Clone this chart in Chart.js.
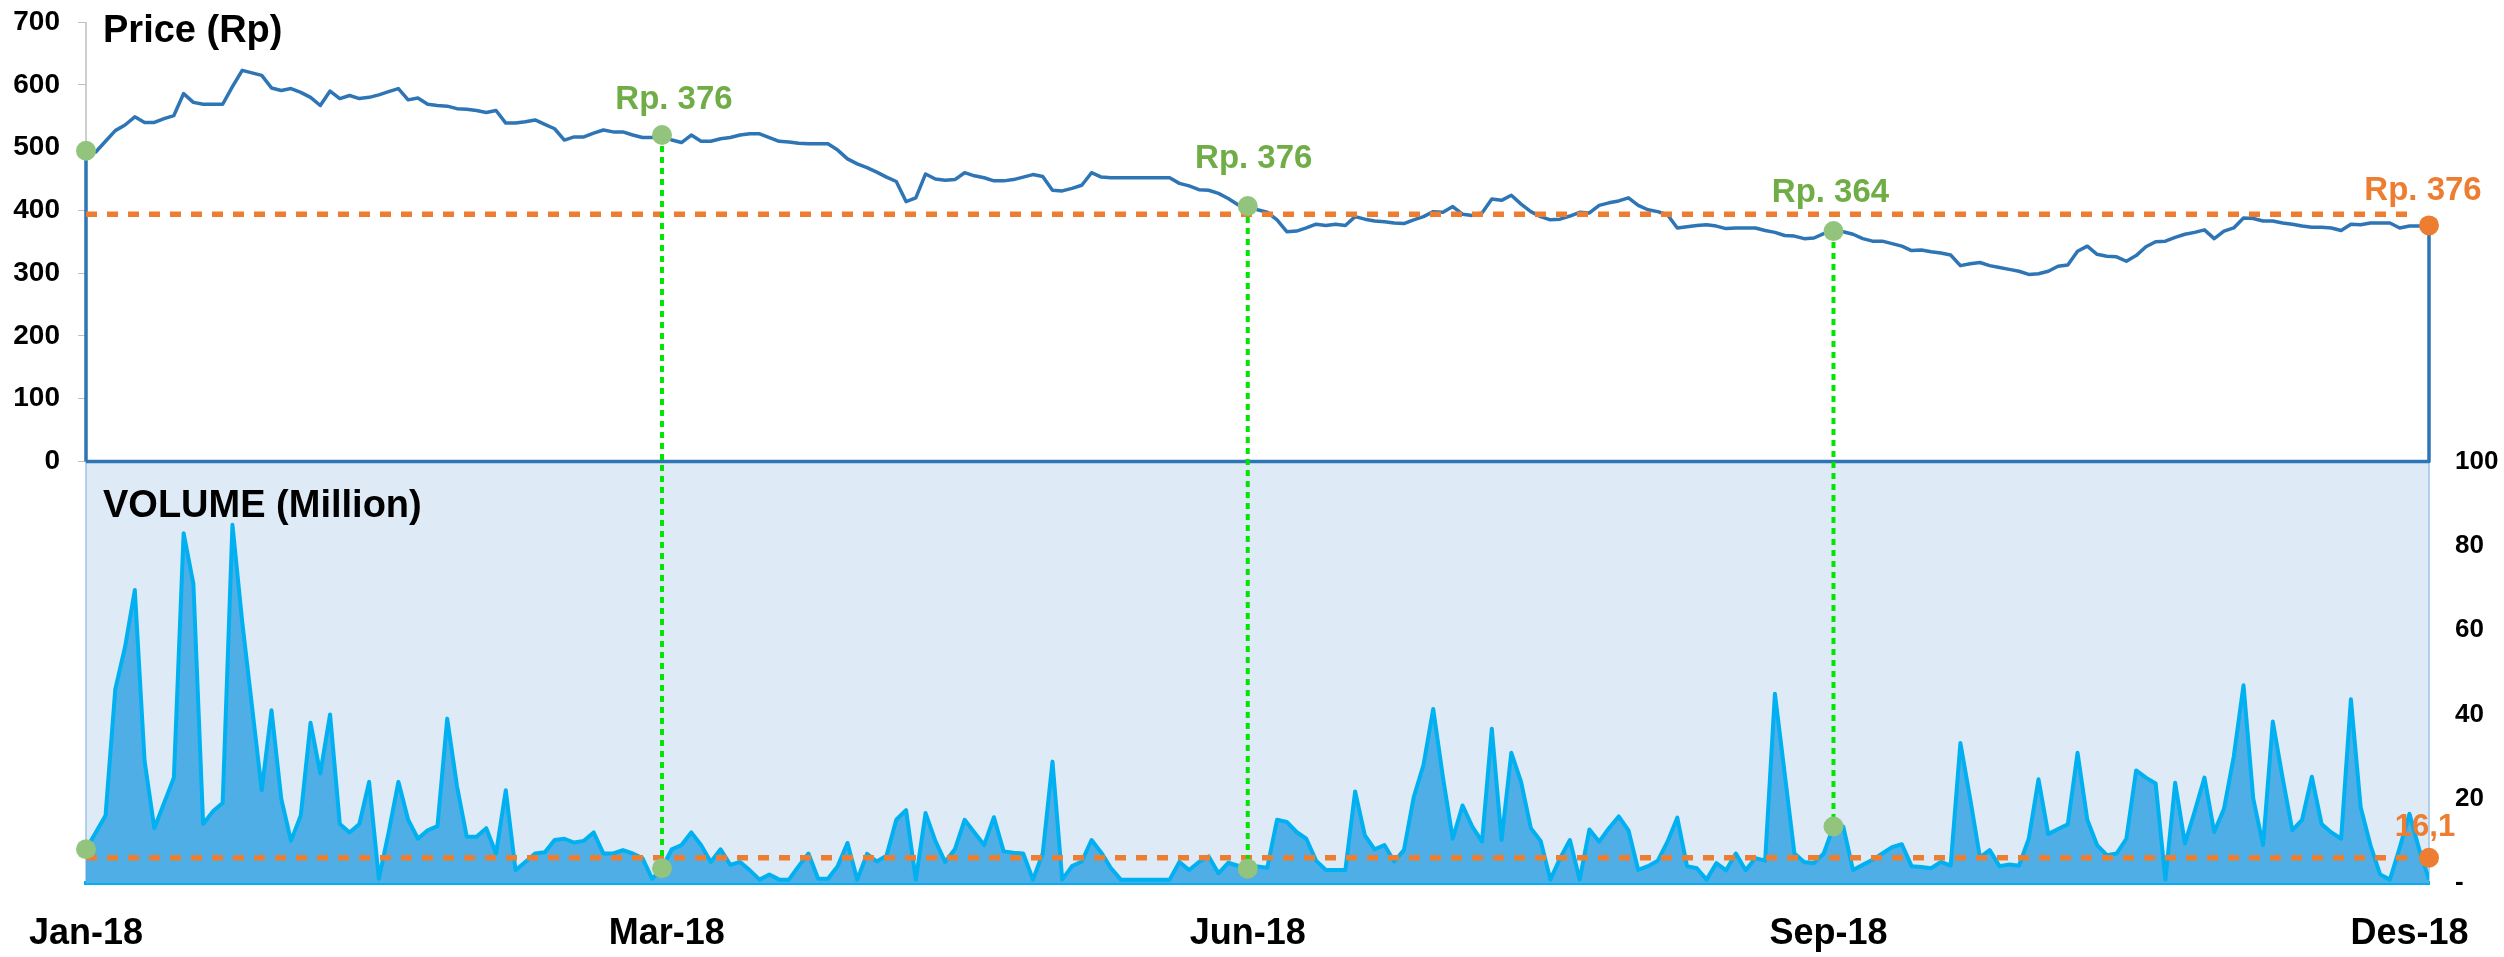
<!DOCTYPE html>
<html>
<head>
<meta charset="utf-8">
<title>Price &amp; Volume 2018</title>
<script src="https://cdn.jsdelivr.net/npm/chart.js@4.4.1/dist/chart.umd.min.js"></script>
<style>
  html, body { margin: 0; padding: 0; background: #ffffff; }
  #wrap { width: 2504px; height: 957px; }
</style>
</head>
<body>
<div id="wrap"><canvas id="chart" width="2504" height="957"></canvas></div>
<script>
// trading-day index on x, month labels at these positions
const xTickPos = [0, 59.5, 119, 178.5, 238];
const xTickLabels = ['Jan-18', 'Mar-18', 'Jun-18', 'Sep-18', 'Des-18'];
const priceTicks = [0, 100, 200, 300, 400, 500, 600, 700];
const volumeTicks = [0, 20, 40, 60, 80, 100];

const price = [
    495, 493, 510, 527, 536, 549, 540, 540, 546, 551, 586, 572, 569, 569, 569, 597, 623, 619, 615, 595,
    591, 594, 588, 580, 567, 590, 578, 583, 578, 580, 584, 589, 594, 576, 579, 569, 567, 566, 562, 561,
    559, 556, 559, 539, 539, 541, 544, 537, 530, 512, 517, 517, 523, 528, 525, 525, 520, 516, 516, 520,
    512, 508, 520, 510, 510, 514, 516, 520, 522, 522, 516, 510, 509, 507, 506, 506, 506, 496, 482, 474,
    468, 461, 453, 446, 414, 420, 458, 450, 448, 449, 460, 455, 452, 447, 447, 449, 453, 457, 454, 432,
    431, 435, 440, 460, 453, 452, 452, 452, 452, 452, 452, 452, 443, 439, 433, 432, 427, 419, 409, 407,
    401, 397, 385, 366, 367, 372, 378, 376, 378, 376, 390, 386, 383, 382, 380, 379, 385, 390, 398, 397,
    406, 394, 392, 396, 418, 416, 424, 410, 398, 390, 385, 386, 391, 397, 396, 408, 412, 415, 420, 408,
    401, 398, 393, 372, 374, 376, 377, 375, 371, 372, 372, 372, 368, 365, 360, 359, 355, 356, 363, 367,
    366, 362, 355, 351, 351, 347, 343, 336, 337, 334, 332, 329, 312, 315, 317, 312, 309, 306, 303, 298,
    299, 303, 311, 313, 335, 343, 330, 327, 326, 319, 328, 342, 350, 351, 357, 362, 365, 369, 355, 367,
    372, 388, 387, 383, 383, 380, 378, 375, 373, 373, 372, 368, 378, 377, 380, 380, 380, 372, 375, 375,
    376
];

const volume = [
    8, 12, 16, 46, 56, 69.5, 29, 13, 19, 25, 83, 71, 14, 17, 19, 85, 62, 42, 22, 41,
    20, 10, 16, 38, 26, 40, 14, 12, 14, 24, 1, 12, 24, 15, 10.5, 12.5, 13.5, 39, 23, 11,
    11, 13, 7, 22, 3, 5, 7, 7.3, 10.2, 10.5, 9.6, 10, 12, 7, 7, 7.8, 7, 5.9, 1, 3.5,
    8, 9, 12, 9, 5, 8, 4.3, 5, 3, 0.8, 2, 0.8, 0.8, 4, 7, 1, 1, 4, 9.5, 0.8,
    6.9, 5.1, 6.5, 15, 17.3, 0.8, 16.6, 10, 5, 8, 15, 12, 9, 15.6, 7.5, 7.2, 7, 0.8, 7, 28.8,
    0.8, 4, 5.1, 10.2, 7.2, 3.5, 0.8, 0.8, 0.8, 0.8, 0.8, 0.8, 5, 3.1, 5, 6.3, 2.3, 4.8, 4.1, 3.4,
    3.9, 3.6, 15, 14.5, 12.1, 10.5, 5.3, 3.1, 3.1, 3.1, 21.7, 11.3, 8, 9, 5.1, 7.8, 20.3, 28, 41.3, 25,
    10.5, 18.4, 13.4, 9.8, 36.6, 10.2, 30.9, 24, 13, 10, 0.8, 5.9, 10.2, 0.8, 12.7, 9.8, 13, 15.8, 12.5, 3.1,
    4, 5.3, 9.8, 15.5, 4, 3.5, 0.8, 4.7, 3, 7, 3, 5.9, 5.3, 44.9, 26, 7, 5, 4.7, 7, 13.4,
    13.4, 3.1, 4.3, 5.5, 7, 8.5, 9.2, 4, 3.8, 3.5, 5, 4.1, 33.2, 20, 6.1, 7.8, 4, 4.4, 4.1, 10.5,
    24.6, 11.6, 12.8, 13.9, 30.9, 15, 9, 6.6, 7, 10.5, 26.7, 25, 23.6, 0.8, 23.8, 9.4, 17, 25, 12.1, 17.6,
    30, 46.9, 20, 9, 38.3, 25, 12.5, 15, 25.2, 14, 12, 10.5, 43.6, 18, 9, 2, 0.8, 8.4, 16.4, 8,
    0.8
];

const avgPrice = 394;
const avgVolume = 6;
const markerDays = [0, 59, 119, 179];
const markerLabels = ['', 'Rp. 376', 'Rp. 376', 'Rp. 364'];
const lastPriceLabel = 'Rp. 376';
const lastVolumeLabel = '16,1';
const panelTitles = ['Price (Rp)', 'VOLUME (Million)'];

const FONT = '"Liberation Sans", Arial, Helvetica, sans-serif';
const lastDay = price.length - 1;
const priceShare = 0.5105; // part of the plot height used by the price panel
const priceMax = priceTicks[priceTicks.length - 1];
const priceMin = -priceMax * (1 - priceShare) / priceShare;
const volumeMax = volumeTicks[volumeTicks.length - 1] / (1 - priceShare);

Chart.defaults.font.family = FONT;
Chart.defaults.font.weight = 'bold';
Chart.defaults.color = '#000000';

function xy(values) {
    return values.map((v, i) => ({ x: i, y: v }));
}

// keep tick labels from pushing the plot area around
function noEdgePadding(scale) {
    scale.paddingTop = 0;
    scale.paddingBottom = 0;
    scale.paddingLeft = 0;
    scale.paddingRight = 0;
}

// price drawn as an unfilled area: up from 0, along the series, back down and along 0
const priceOutline = [{ x: 0, y: 0 }].concat(xy(price), [{ x: lastDay, y: 0 }, { x: 0, y: 0 }]);

const panels = {
    id: 'panels',
    beforeDraw(chart) {
        const { ctx, chartArea: a, scales } = chart;
        const y0 = scales.yPrice.getPixelForValue(0);
        ctx.save();
        ctx.fillStyle = '#deebf7';
        ctx.fillRect(a.left, y0, a.right - a.left, a.bottom - y0);
        ctx.lineWidth = 1.5;
        ctx.strokeStyle = '#9dc3e6';
        ctx.beginPath();
        ctx.moveTo(a.left, y0);
        ctx.lineTo(a.left, a.bottom);
        ctx.moveTo(a.right, y0);
        ctx.lineTo(a.right, a.bottom);
        ctx.stroke();
        ctx.strokeStyle = '#bfbfbf';
        ctx.beginPath();
        ctx.moveTo(a.left, a.top);
        ctx.lineTo(a.left, y0);
        ctx.stroke();
        ctx.restore();
    },
    beforeDatasetDraw(chart, args) {
        if (chart.data.datasets[args.index].label !== 'volMarkers') return;
        const { ctx, scales } = chart;
        ctx.save();
        ctx.strokeStyle = '#00e600';
        ctx.lineWidth = 4;
        ctx.setLineDash([6, 5]);
        markerDays.forEach((d, k) => {
            if (k === 0) return;
            const x = scales.x.getPixelForValue(d);
            ctx.beginPath();
            ctx.moveTo(x, scales.yPrice.getPixelForValue(price[d]));
            ctx.lineTo(x, scales.yVol.getPixelForValue(volume[d]));
            ctx.stroke();
        });
        ctx.restore();
    },
    afterDraw(chart) {
        const { ctx, chartArea: a, scales } = chart;
        const y0 = scales.yPrice.getPixelForValue(0);
        ctx.save();
        ctx.fillStyle = '#000000';
        ctx.font = 'bold 38px ' + FONT;
        ctx.textAlign = 'left';
        ctx.textBaseline = 'alphabetic';
        ctx.fillText(panelTitles[0], a.left + 17, a.top + 20);
        ctx.fillText(panelTitles[1], a.left + 17, y0 + 55);

        const shift = [0, 12, 6, -3];
        const lift = [0, 35, 47, 38];
        ctx.font = 'bold 33px ' + FONT;
        ctx.textAlign = 'center';
        ctx.textBaseline = 'middle';
        ctx.fillStyle = '#70ad47';
        markerDays.forEach((d, k) => {
            if (!markerLabels[k]) return;
            const x = scales.x.getPixelForValue(d);
            const y = scales.yPrice.getPixelForValue(price[d]);
            ctx.fillText(markerLabels[k], x + shift[k], y - lift[k]);
        });
        const xEnd = scales.x.getPixelForValue(lastDay);
        ctx.fillStyle = '#ed7d31';
        ctx.fillText(lastPriceLabel, xEnd - 6, scales.yPrice.getPixelForValue(price[lastDay]) - 35);
        ctx.font = 'bold 31px ' + FONT;
        ctx.fillText(lastVolumeLabel, xEnd - 4, scales.yVol.getPixelForValue(avgVolume) - 30);
        ctx.restore();
    }
};

const data = {
    datasets: [
        {
            label: 'endMarkers',
            data: [{ x: lastDay, y: price[lastDay] }],
            yAxisID: 'yPrice',
            showLine: false,
            pointRadius: 10,
            pointBackgroundColor: '#ed7d31',
            pointBorderWidth: 0,
            clip: false,
            order: 0
        },
        {
            label: 'endVolMarker',
            data: [{ x: lastDay, y: avgVolume }],
            yAxisID: 'yVol',
            showLine: false,
            pointRadius: 10,
            pointBackgroundColor: '#ed7d31',
            pointBorderWidth: 0,
            clip: false,
            order: 0
        },
        {
            label: 'priceMarkers',
            data: markerDays.map(d => ({ x: d, y: price[d] })),
            yAxisID: 'yPrice',
            showLine: false,
            pointRadius: 10,
            pointBackgroundColor: '#93c47d',
            pointBorderWidth: 0,
            clip: false,
            order: 1
        },
        {
            label: 'volMarkers',
            data: markerDays.map(d => ({ x: d, y: volume[d] })),
            yAxisID: 'yVol',
            showLine: false,
            pointRadius: 10,
            pointBackgroundColor: '#93c47d',
            pointBorderWidth: 0,
            clip: false,
            order: 2
        },
        {
            label: 'avgPrice',
            data: [{ x: 0, y: avgPrice }, { x: lastDay - 2, y: avgPrice }],
            yAxisID: 'yPrice',
            borderColor: '#ed7d31',
            borderWidth: 5.5,
            borderDash: [11, 10],
            pointRadius: 0,
            order: 3
        },
        {
            label: 'avgVolume',
            data: [{ x: 0, y: avgVolume }, { x: lastDay - 2, y: avgVolume }],
            yAxisID: 'yVol',
            borderColor: '#ed7d31',
            borderWidth: 5.5,
            borderDash: [11, 10],
            pointRadius: 0,
            order: 3
        },
        {
            label: 'Price (Rp)',
            data: priceOutline,
            yAxisID: 'yPrice',
            borderColor: '#2e75b6',
            borderWidth: 3.5,
            borderJoinStyle: 'round',
            pointRadius: 0,
            tension: 0,
            fill: false,
            clip: false,
            order: 4
        },
        {
            label: 'VOLUME (Million)',
            data: xy(volume),
            yAxisID: 'yVol',
            borderColor: '#00b0f0',
            backgroundColor: '#50aee6',
            borderWidth: 4,
            borderJoinStyle: 'round',
            pointRadius: 0,
            tension: 0,
            fill: 'origin',
            order: 5
        }
    ]
};

const config = {
    type: 'line',
    data: data,
    options: {
        responsive: false,
        animation: false,
        events: [],
        layout: { padding: { top: 22, left: 0, right: 0, bottom: 0 } },
        plugins: {
            legend: { display: false },
            tooltip: { enabled: false }
        },
        scales: {
            x: {
                type: 'linear',
                min: 0,
                max: lastDay,
                grid: { display: false, drawTicks: false },
                border: { display: true, color: '#00b0f0', width: 4 },
                afterBuildTicks: (scale) => { scale.ticks = xTickPos.map(v => ({ value: v })); },
                afterFit: (scale) => { scale.height = 74; noEdgePadding(scale); },
                ticks: {
                    padding: 29,
                    maxRotation: 0,
                    autoSkip: false,
                    font: { size: 36, weight: 'bold' },
                    callback: (value, index) => xTickLabels[index]
                }
            },
            yPrice: {
                type: 'linear',
                position: 'left',
                min: priceMin,
                max: priceMax,
                grid: { drawOnChartArea: false, drawTicks: true, tickLength: 8, color: '#bfbfbf' },
                border: { display: false },
                afterBuildTicks: (scale) => { scale.ticks = priceTicks.map(v => ({ value: v })); },
                afterFit: (scale) => { scale.width = 86; noEdgePadding(scale); },
                ticks: {
                    padding: 18,
                    font: { size: 28, weight: 'bold' },
                    callback: (value) => value
                }
            },
            yVol: {
                type: 'linear',
                position: 'right',
                min: 0,
                max: volumeMax,
                grid: { display: false, drawTicks: false },
                border: { display: false },
                afterBuildTicks: (scale) => { scale.ticks = volumeTicks.map(v => ({ value: v })); },
                afterFit: (scale) => { scale.width = 75; noEdgePadding(scale); },
                ticks: {
                    padding: 26,
                    font: { size: 26, weight: 'bold' },
                    callback: (value) => value === 0 ? '-' : value
                }
            }
        }
    },
    plugins: [panels]
};

const ctx = document.getElementById('chart').getContext('2d');
const chart = new Chart(ctx, config);
</script>
</body>
</html>
